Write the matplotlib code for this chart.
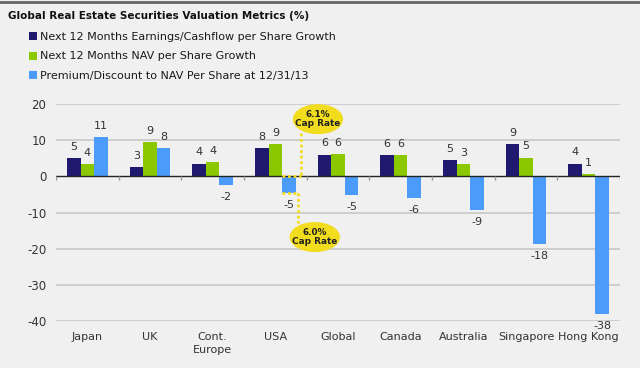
import numpy as np
import matplotlib.pyplot as plt
from matplotlib.patches import Ellipse
from matplotlib.lines import Line2D

# Data
regions = ["Japan", "UK", "Cont.\nEurope", "USA", "Global", "Canada",
           "Australia", "Singapore", "Hong Kong"]
earnings = [5.0, 2.5, 3.5, 7.8, 6.0, 5.8, 4.5, 8.9, 3.5]
nav_growth = [3.4, 9.4, 3.9, 8.9, 6.2, 5.8, 3.3, 5.2, 0.6]
premium = [10.9, 7.7, -2.5, -4.7, -5.2, -5.9, -9.3, -18.6, -38.1]
earnings_lbl = [5, 3, 4, 8, 6, 6, 5, 9, 4]
nav_lbl = [4, 9, 4, 9, 6, 6, 3, 5, 1]
premium_lbl = [11, 8, -2, -5, -5, -6, -9, -18, -38]
series_names = ["Next 12 Months Earnings/Cashflow per Share Growth",
                "Next 12 Months NAV per Share Growth",
                "Premium/Discount to NAV Per Share at 12/31/13"]
yticks = [20, 10, 0, -10, -20, -30, -40]

NAVY = "#1f1a70"
GREEN = "#8cc800"
BLUE = "#4b9cfa"
YELLOW = "#f2dc1e"
BG = "#f0f0f0"
TXT = "#333333"

plt.rcParams['font.family'] = ['DejaVu Sans']

fig = plt.figure(figsize=(6.4, 3.68), dpi=100, facecolor=BG)
ax = fig.add_axes([56/640, 1 - 321/368, (620 - 56)/640, (321 - 104)/368])
ax.set_facecolor(BG)

x = np.arange(len(regions))
w = 0.215
b1 = ax.bar(x - w, earnings, w, color=NAVY, zorder=3)
b2 = ax.bar(x, nav_growth, w, color=GREEN, zorder=3)
b3 = ax.bar(x + w, premium, w, color=BLUE, zorder=3)

# value labels: positives sit above the bar, negatives a bit further below
for bars, lbls in [(b1, earnings_lbl), (b2, nav_lbl), (b3, premium_lbl)]:
    pos = [str(v) if v >= 0 else "" for v in lbls]
    neg = [str(v) if v < 0 else "" for v in lbls]
    ax.bar_label(bars, labels=pos, padding=4.5, fontsize=8, color=TXT)
    ax.bar_label(bars, labels=neg, padding=5, fontsize=8, color=TXT)

ax.set_xlim(-0.5, len(regions) - 0.5)
ax.set_ylim(-40, 20)
ax.set_yticks(yticks)
ax.set_yticklabels([str(v) for v in yticks], fontsize=8.5, color=TXT)
ax.tick_params(axis='y', length=0, pad=7)
ax.set_xticks(x)
ax.set_xticklabels(regions, fontsize=8, color=TXT, linespacing=1.4)
ax.tick_params(axis='x', length=0, pad=8)
for s in ax.spines.values():
    s.set_visible(False)
for v in yticks:
    if v != 0:
        ax.axhline(v, color="#c8c8c8", lw=1.2, zorder=1)
ax.axhline(0, color="#222222", lw=1, zorder=4)
ax.vlines(np.arange(len(regions) + 1) - 0.5, -1.0, 0, color="#999999",
          lw=1, zorder=4)

# Cap rate callouts
dot = dict(color=YELLOW, lw=2, ls=(0, (1, 1)), zorder=5, clip_on=False)
ax.plot([3.405, 3.405], [11.9, 0], **dot)
ax.plot([3.10, 3.405], [0, 0], **dot)
ax.plot([3.10, 3.36], [-4.5, -4.5], **dot)
ax.plot([3.36, 3.36], [-4.5, -12.9], **dot)
for cx, cy, t in [(3.68, 15.8, "6.1%\nCap Rate"), (3.63, -16.8, "6.0%\nCap Rate")]:
    ax.add_patch(Ellipse((cx, cy), 0.78, 7.9, color=YELLOW, zorder=6,
                         clip_on=False))
    ax.text(cx, cy, t, ha='center', va='center', fontsize=6.4,
            fontweight='bold', color="#222222", zorder=7, linespacing=1.0)

# Title, legend, top border
fig.text(8/640, 1 - 16/368, "Global Real Estate Securities Valuation Metrics (%)",
         fontsize=7.5, fontweight='bold', color="#111111", va='center')
fig.legend([b1, b2, b3], series_names, loc='upper left',
           bbox_to_anchor=(29/640, 1 - 32/368), frameon=False, fontsize=8,
           handlelength=0.75, handleheight=0.75, handletextpad=0.2,
           labelspacing=0.85, borderpad=0, borderaxespad=0,
           labelcolor="#1a1a1a")
fig.add_artist(Line2D([0, 1], [1 - 2/368, 1 - 2/368], color="#666666", lw=2))

fig.savefig("out.png", dpi=100, facecolor=BG)
